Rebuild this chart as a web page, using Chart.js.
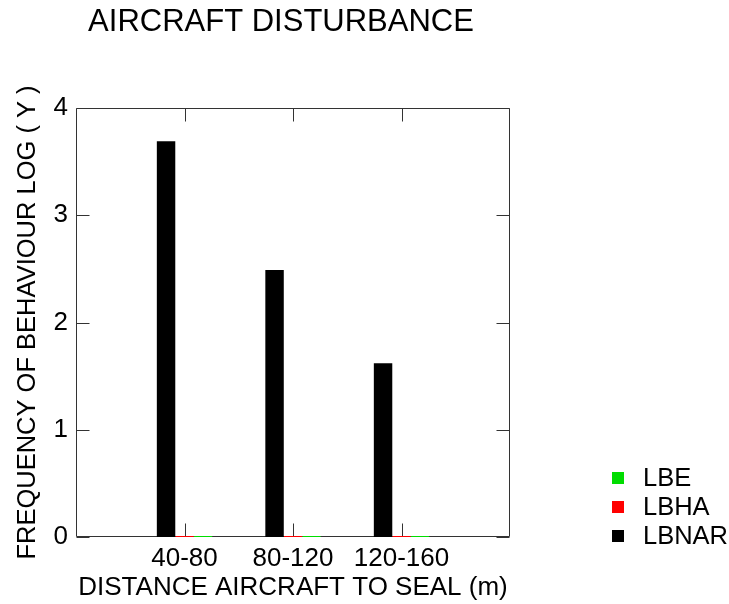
<!DOCTYPE html>
<html lang="en">
  <head>
    <meta charset="UTF-8" />
    <title>Aircraft Disturbance</title>
    <script src="https://cdn.jsdelivr.net/npm/chart.js@4/dist/chart.umd.min.js"></script>
    <style>
      html, body { margin: 0; padding: 0; background: #fff; }
      #wrap { width: 729px; height: 604px; }
    </style>
  </head>
  <body>
    <div id="wrap"><canvas id="disturbanceChart" width="729" height="604"></canvas></div>
  </body>
  <script>
    // values
    const distances = ["40-80", "80-120", "120-160"];
    const lbnar = [3.69, 2.49, 1.62];
    const lbha = [0, 0, 0];
    const lbe = [0, 0, 0];
    const yTicks = [0, 1, 2, 3, 4];

    const FONT = "'Liberation Sans', Arial, sans-serif";
    const FRAME = "#333";

    // empty slots at both ends so categories sit at 1,2,3 on a 0..4 axis
    const labels = ["", ...distances, ""];
    const pad = (arr) => [null, ...arr, null];

    // frame with inward tick marks on all four sides
    const framePlugin = {
      id: "frame",
      beforeDatasetsDraw(chart) {
        const {ctx, chartArea: a, scales: {x, y}} = chart;
        const L = Math.round(a.left) + 0.5, R = Math.round(a.right) - 0.5;
        const T = Math.round(a.top) + 0.5, B = Math.round(a.bottom) - 0.5;
        const len = 13;
        ctx.save();
        ctx.strokeStyle = FRAME;
        ctx.lineWidth = 1;
        ctx.beginPath();
        ctx.rect(L, T, R - L, B - T);
        yTicks.forEach((v) => {
          const py = Math.round(y.getPixelForValue(v)) + 0.5;
          ctx.moveTo(L, py); ctx.lineTo(L + len, py);
          ctx.moveTo(R, py); ctx.lineTo(R - len, py);
        });
        distances.forEach((d, i) => {
          const px = Math.round(x.getPixelForTick(i + 1)) + 0.5;
          ctx.moveTo(px, B); ctx.lineTo(px, B - len);
          ctx.moveTo(px, T); ctx.lineTo(px, T + len);
        });
        ctx.stroke();
        ctx.restore();
      },
      afterDraw(chart) {
        const {ctx} = chart;
        ctx.save();
        ctx.fillStyle = "#000";
        ctx.font = "31px " + FONT;
        ctx.textAlign = "center";
        ctx.textBaseline = "middle";
        ctx.fillText("AIRCRAFT DISTURBANCE", 281, 22);
        // legend, last dataset on top
        ctx.font = "25.5px " + FONT;
        ctx.textAlign = "left";
        const items = chart.data.datasets.slice().reverse();
        items.forEach((ds, i) => {
          const cy = 478 + i * 29;
          ctx.fillStyle = ds.backgroundColor;
          ctx.fillRect(612, cy - 6, 12, 12);
          ctx.fillStyle = "#000";
          ctx.fillText(ds.label, 643, cy + 1);
        });
        ctx.restore();
      },
    };

    const ctx = document.getElementById("disturbanceChart").getContext("2d");
    new Chart(ctx, {
      type: "bar",
      data: {
        labels: labels,
        datasets: [
          {label: "LBNAR", data: pad(lbnar), backgroundColor: "#000000"},
          {label: "LBHA", data: pad(lbha), backgroundColor: "#ff0000", minBarLength: 1},
          {label: "LBE", data: pad(lbe), backgroundColor: "#00dd00", minBarLength: 1},
        ],
      },
      options: {
        responsive: false,
        animation: false,
        devicePixelRatio: 1,
        layout: {padding: {top: 108, right: 219, left: 0, bottom: 0}},
        datasets: {bar: {categoryPercentage: 0.51, barPercentage: 1.0}},
        plugins: {
          legend: {display: false},
          title: {display: false},
          tooltip: {enabled: false},
        },
        scales: {
          x: {
            offset: false,
            grid: {display: false, drawTicks: false},
            border: {display: false},
            ticks: {color: "#000", font: {family: FONT, size: 26}, padding: 6, maxRotation: 0, autoSkip: false},
            title: {display: true, text: "DISTANCE AIRCRAFT TO SEAL (m)", color: "#000",
                    font: {family: FONT, size: 26}, padding: {top: 0, bottom: 1}},
            afterFit: (s) => { s.height = 67; },
          },
          y: {
            min: 0,
            max: 4,
            grid: {display: false, drawTicks: false},
            border: {display: false},
            ticks: {stepSize: 1, color: "#000", font: {family: FONT, size: 26}, padding: 8},
            title: {display: true, text: "FREQUENCY OF BEHAVIOUR LOG ( Y )", color: "#000",
                    font: {family: FONT, size: 25.5}, padding: {top: 13, bottom: 0}},
            afterFit: (s) => { s.width = 76; },
          },
        },
      },
      plugins: [framePlugin],
    });
  </script>
</html>
